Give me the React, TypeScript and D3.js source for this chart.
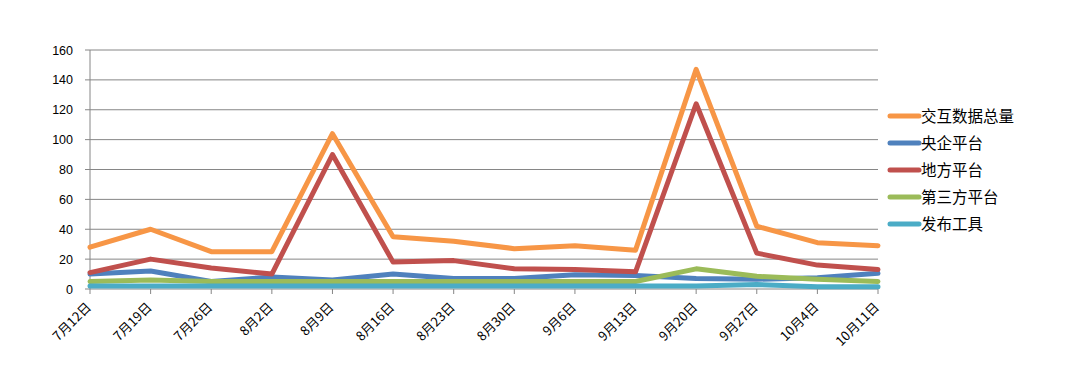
import React from "react";
import * as d3 from "d3";

const categories = ["7月12日","7月19日","7月26日","8月2日","8月9日","8月16日","8月23日","8月30日","9月6日","9月13日","9月20日","9月27日","10月4日","10月11日"];
const totalData = [28, 40, 25, 25, 104, 35, 32, 27, 29, 26, 147, 42, 31, 29];
const centralData = [10, 12, 5, 8, 6, 10, 7, 7, 9.5, 9, 7, 6.5, 7.5, 10.5];
const localData = [11, 20, 14, 10, 90, 18, 19, 13.5, 13, 11.5, 124, 24, 16, 13];
const thirdData = [5, 6, 5, 5, 5, 5, 5, 5, 5, 5, 13.5, 8.5, 6.5, 5];
const toolData = [2, 2, 2, 2, 2, 2, 2, 2, 2, 2, 2, 3, 1.5, 1.5];
const yTicks = [0, 20, 40, 60, 80, 100, 120, 140, 160];

const seriesNames = ["交互数据总量", "央企平台", "地方平台", "第三方平台", "发布工具"];
const seriesColors = ["#F79646", "#4F81BD", "#C0504D", "#9BBB59", "#4BACC6"];
const seriesData = [totalData, centralData, localData, thirdData, toolData];

export default function App() {
  const W = 1082, H = 380;
  const left = 90, right = 878, top = 50, bottom = 289;
  const x = d3.scalePoint<string>().domain(categories).range([left, right]);
  const y = d3.scaleLinear().domain([0, 160]).range([bottom, top]);
  const line = d3.line<number>()
    .x((_, i) => x(categories[i]) as number)
    .y((d) => y(d));
  const latin = "'Liberation Sans', Arial, sans-serif";
  const cjk = "'Noto Sans CJK SC', 'Liberation Sans', sans-serif";
  return (
    <svg width={W} height={H} style={{ position: "absolute", left: 0, top: 0, background: "#fff" }}>
      {yTicks.map((t) => (
        <g key={t}>
          {t > 0 && <line x1={left} x2={right} y1={y(t)} y2={y(t)} stroke="#868686" strokeWidth={1} />}
          <line x1={left - 5} x2={left} y1={y(t)} y2={y(t)} stroke="#868686" strokeWidth={1} />
          <text x={left - 17} y={y(t) + 4.5} textAnchor="end" fontSize={12.5} fontFamily={latin} fill="#000">{t}</text>
        </g>
      ))}
      <line x1={left} x2={left} y1={top} y2={bottom} stroke="#868686" strokeWidth={1} />
      <line x1={left} x2={right} y1={bottom} y2={bottom} stroke="#868686" strokeWidth={1} />
      {categories.map((c) => {
        const cx = x(c) as number;
        return (
          <g key={c}>
            <line x1={cx} x2={cx} y1={bottom} y2={bottom + 5} stroke="#868686" strokeWidth={1} />
            <text transform={`translate(${cx + 2},${bottom + 19}) rotate(-45)`} textAnchor="end" fontSize={13} fontFamily={cjk} fill="#000">{c}</text>
          </g>
        );
      })}
      {seriesData.map((d, i) => (
        <path key={seriesNames[i]} d={line(d) ?? ""} fill="none" stroke={seriesColors[i]} strokeWidth={5} strokeLinejoin="round" strokeLinecap="round" />
      ))}
      {seriesNames.map((n, i) => {
        const ly = 116 + i * 27;
        return (
          <g key={n}>
            <line x1={890} x2={919} y1={ly} y2={ly} stroke={seriesColors[i]} strokeWidth={5} strokeLinecap="round" />
            <text x={921} y={ly + 5.5} fontSize={15.5} fontFamily={cjk} fill="#000">{n}</text>
          </g>
        );
      })}
    </svg>
  );
}
